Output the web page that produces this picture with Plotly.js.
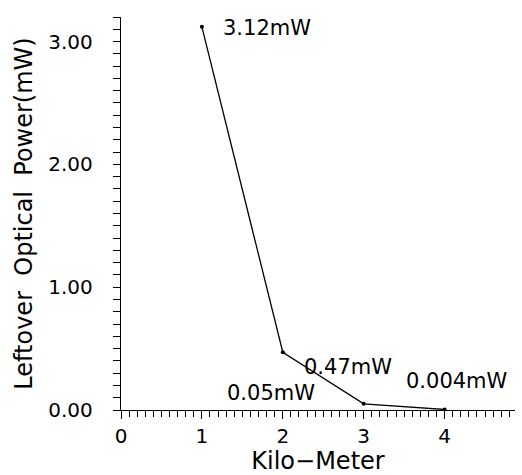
<!DOCTYPE html>
<html>
<head>
<meta charset="utf-8">
<script src="https://cdn.plot.ly/plotly-3.0.1.min.js"></script>
<style>html,body{margin:0;padding:0;background:#fff;}#chart{width:522px;height:475px;}</style>
</head>
<body>
<div id="chart"></div>
<script>
const distanceKm = [1, 2, 3, 4];
const powerMw = [3.12, 0.47, 0.05, 0.004];
const pointLabels = ["3.12mW", "0.47mW", "0.05mW", "0.004mW"];
const labelX = [1.24, 2.24, 1.28, 3.5];
const labelY = [3.11, 0.35, 0.14, 0.24];

const font = "DejaVu Sans, sans-serif";

const trace = {
  x: distanceKm, y: powerMw, mode: "lines+markers", type: "scatter",
  line: {color: "#000", width: 1.3},
  marker: {color: "#000", size: 4},
  hoverinfo: "none", showlegend: false
};

const annotations = pointLabels.map((t, i) => ({
  x: labelX[i], y: labelY[i], xref: "x", yref: "y", text: t,
  showarrow: false, xanchor: "left", yanchor: "middle",
  font: {family: font, size: 21, color: "#000"}
}));

const layout = {
  width: 522, height: 475,
  margin: {l: 121, r: 7, t: 17, b: 65},
  paper_bgcolor: "#fff", plot_bgcolor: "#fff",
  showlegend: false,
  xaxis: {
    range: [0, 4.87], showgrid: false, zeroline: false,
    showline: true, linecolor: "#000", linewidth: 1.3,
    tickmode: "linear", tick0: 0, dtick: 1,
    ticks: "outside", ticklen: 8, tickcolor: "#000", tickwidth: 1,
    minor: {dtick: 0.1, tick0: 0, ticks: "outside", ticklen: 6, tickcolor: "#000", tickwidth: 1},
    tickfont: {family: font, size: 20, color: "#000"},
    ticklabelstandoff: 0,
    title: {text: "Kilo\u2212Meter", font: {family: font, size: 24, color: "#000"}, standoff: 4}
  },
  yaxis: {
    range: [0, 3.2], showgrid: false, zeroline: false,
    showline: true, linecolor: "#000", linewidth: 1.3,
    tickmode: "linear", tick0: 0, dtick: 1, tickformat: ".2f",
    ticks: "outside", ticklen: 7, tickcolor: "#000", tickwidth: 1,
    minor: {dtick: 0.1, tick0: 0, ticks: "outside", ticklen: 7, tickcolor: "#000", tickwidth: 1},
    tickfont: {family: font, size: 20, color: "#000"},
    ticklabelstandoff: 16,
    title: {text: "Leftover  Optical  Power(mW)", font: {family: font, size: 24, color: "#000"}, standoff: 8}
  },
  annotations: annotations
};

Plotly.newPlot("chart", [trace], layout, {displayModeBar: false, staticPlot: true});
</script>
</body>
</html>
